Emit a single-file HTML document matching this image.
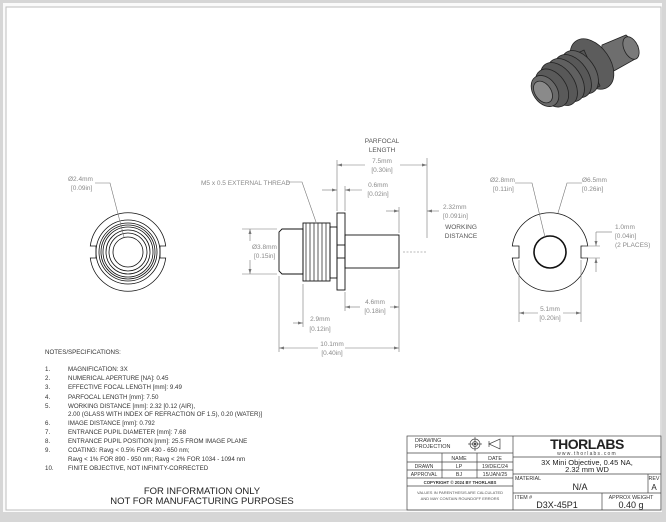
<!DOCTYPE html>
<html><head><meta charset="utf-8"><style>
html,body{margin:0;padding:0;background:#fff;}
svg{display:block;}
text{font-family:"Liberation Sans",sans-serif;}
.d{fill:#8a8a8a;font-size:6.5px;}
.n{fill:#333;font-size:6.2px;}
</style></head><body>
<svg width="666" height="522" viewBox="0 0 666 522" xmlns="http://www.w3.org/2000/svg">
<rect x="0" y="0" width="666" height="522" fill="#d6d6d6"/>
<rect x="3" y="3" width="659" height="509" fill="#fafafa"/>
<rect x="6" y="7" width="655" height="503" fill="#fff" stroke="#bdbdbd" stroke-width="1"/>

<!-- 3D render -->
<g stroke="#222" stroke-width="0.8">
<polygon points="602,45 626,35 638,46 637,58 612,72 600,66" fill="#6e6e6e"/>
<ellipse cx="631" cy="48" rx="7" ry="12" transform="rotate(-25 631 48)" fill="#7a7a7a"/>
<ellipse cx="592" cy="64" rx="18" ry="28" transform="rotate(-35 592 64)" fill="#5c5c5c"/>
<polygon points="551,66 584,50 600,86 567,104" fill="#555"/>
<ellipse cx="580" cy="72" rx="15" ry="24" transform="rotate(-35 580 72)" fill="#606060"/>
<ellipse cx="573" cy="76" rx="15" ry="24" transform="rotate(-35 573 76)" fill="#585858"/>
<ellipse cx="566" cy="80" rx="15" ry="24" transform="rotate(-35 566 80)" fill="#606060"/>
<ellipse cx="559" cy="84" rx="15" ry="24" transform="rotate(-35 559 84)" fill="#585858"/>
<ellipse cx="552" cy="88" rx="14" ry="21" transform="rotate(-35 552 88)" fill="#5a5a5a"/>
<ellipse cx="545" cy="91" rx="12" ry="17" transform="rotate(-35 545 91)" fill="#6a6a6a"/>
<ellipse cx="543" cy="92" rx="8" ry="12" transform="rotate(-35 543 92)" fill="#8a8a8a"/>
</g>

<!-- Left view -->
<g fill="none" stroke="#111" stroke-width="0.8">
<path d="M90.3,246 A38,38 0 0 1 165.7,246 L160,246 L160,258 L165.7,258 A38,38 0 0 1 90.3,258 L96,258 L96,246 Z"/>
<circle cx="128" cy="252" r="32"/>
<circle cx="128" cy="252" r="29"/>
<circle cx="128" cy="252" r="27"/>
<circle cx="128" cy="252" r="25"/>
<circle cx="128" cy="252" r="22"/>
<circle cx="128" cy="252" r="19"/>
<circle cx="128" cy="252" r="15"/>
</g>
<text class="d" x="68" y="181">Ø2.4mm</text>
<text class="d" x="71" y="190">[0.09in]</text>
<polyline points="95,183 110,183 124,237" fill="none" stroke="#777" stroke-width="0.6"/>

<!-- Side view -->
<g fill="none" stroke="#111" stroke-width="0.9">
<path d="M282,229 L303,229 L303,274 L282,274 L279,271 L279,232 Z"/>
<rect x="303" y="223" width="27" height="58"/>
<path d="M306,223 v58 M310,223 v58 M314,223 v58 M318,223 v58 M322,223 v58 M326,223 v58" stroke="#333" stroke-width="0.8"/>
<rect x="330" y="227" width="7" height="51"/>
<rect x="337" y="213" width="8" height="77"/>
<line x1="337" y1="245" x2="345" y2="245"/><line x1="337" y1="258" x2="345" y2="258"/>
<rect x="345" y="235" width="54" height="33"/>
</g>
<g stroke="#777" stroke-width="0.6" fill="none">
<line x1="279" y1="276" x2="279" y2="352"/>
<line x1="303" y1="284" x2="303" y2="327"/>
<line x1="337" y1="160" x2="337" y2="211"/>
<line x1="345" y1="186" x2="345" y2="211"/>
<line x1="345" y1="292" x2="345" y2="311"/>
<line x1="399" y1="207" x2="399" y2="233"/>
<line x1="399" y1="270" x2="399" y2="352"/>
<line x1="427" y1="158" x2="427" y2="238"/>
<line x1="403" y1="252" x2="427" y2="252" stroke-dasharray="2,1.5"/>
<line x1="337" y1="165" x2="365" y2="165"/><line x1="400" y1="165" x2="427" y2="165"/>
<line x1="322" y1="190" x2="337" y2="190"/><line x1="345" y1="190" x2="362" y2="190"/>
<line x1="386" y1="211" x2="399" y2="211"/><line x1="427" y1="211" x2="439" y2="211"/>
<line x1="345" y1="307" x2="360" y2="307"/><line x1="390" y1="307" x2="399" y2="307"/>
<line x1="293" y1="323" x2="303" y2="323"/>
<line x1="279" y1="348" x2="318" y2="348"/><line x1="345" y1="348" x2="399" y2="348"/>
<line x1="242" y1="229" x2="277" y2="229"/><line x1="242" y1="274" x2="277" y2="274"/>
<line x1="250" y1="229" x2="250" y2="241"/><line x1="250" y1="260" x2="250" y2="274"/>
<polyline points="287,182 302,182 316,222"/>
</g>
<g fill="#777">
<path d="M337,165 l5,-1.5 v3z M427,165 l-5,-1.5 v3z M337,190 l-5,-1.5 v3z M345,190 l5,-1.5 v3z M399,211 l-5,-1.5 v3z M427,211 l5,-1.5 v3z M345,307 l5,-1.5 v3z M399,307 l-5,-1.5 v3z M303,323 l-5,-1.5 v3z M279,348 l5,-1.5 v3z M399,348 l-5,-1.5 v3z M250,229 l-1.5,5 h3z M250,274 l-1.5,-5 h3z"/>
</g>
<text class="d" x="382" y="143" text-anchor="middle" style="fill:#555">PARFOCAL</text>
<text class="d" x="382" y="152" text-anchor="middle" style="fill:#555">LENGTH</text>
<text class="d" x="382" y="163" text-anchor="middle">7.5mm</text>
<text class="d" x="382" y="172" text-anchor="middle">[0.30in]</text>
<text class="d" x="378" y="187" text-anchor="middle">0.6mm</text>
<text class="d" x="378" y="196" text-anchor="middle">[0.02in]</text>
<text class="d" x="443" y="209">2.32mm</text>
<text class="d" x="443" y="218">[0.091in]</text>
<text class="d" x="461" y="229" text-anchor="middle" style="fill:#555">WORKING</text>
<text class="d" x="461" y="238" text-anchor="middle" style="fill:#555">DISTANCE</text>
<text class="d" x="375" y="304" text-anchor="middle">4.6mm</text>
<text class="d" x="375" y="313" text-anchor="middle">[0.18in]</text>
<text class="d" x="320" y="321" text-anchor="middle">2.9mm</text>
<text class="d" x="320" y="331" text-anchor="middle">[0.12in]</text>
<text class="d" x="332" y="346" text-anchor="middle">10.1mm</text>
<text class="d" x="332" y="355" text-anchor="middle">[0.40in]</text>
<text class="d" x="252" y="249">Ø3.8mm</text>
<text class="d" x="254" y="258">[0.15in]</text>
<text class="d" x="201" y="185">M5 x 0.5 EXTERNAL THREAD</text>

<!-- Right view -->
<g fill="none" stroke="#111" stroke-width="0.8">
<path d="M512.3,246 A38,38 0 0 1 587.7,246 L581,246 L581,258 L587.7,258 A38,38 0 0 1 512.3,258 L519,258 L519,246 Z"/>
<circle cx="550" cy="252" r="16" stroke-width="1.6"/>
</g>
<g stroke="#777" stroke-width="0.6" fill="none">
<polyline points="515,183 532,183 545,237"/>
<polyline points="582,183 567,183 558,213"/>
<line x1="519" y1="260" x2="519" y2="322"/><line x1="581" y1="260" x2="581" y2="322"/>
<line x1="519" y1="313" x2="538" y2="313"/><line x1="563" y1="313" x2="581" y2="313"/>
<line x1="583" y1="246" x2="600" y2="246"/><line x1="583" y1="258" x2="600" y2="258"/>
<line x1="596" y1="232" x2="596" y2="246"/><line x1="596" y1="258" x2="596" y2="272"/>
<line x1="596" y1="232" x2="612" y2="232"/>
</g>
<g fill="#777"><path d="M519,313 l5,-1.5 v3z M581,313 l-5,-1.5 v3z M596,246 l-1.5,-5 h3z M596,258 l-1.5,5 h3z"/></g>
<text class="d" x="490" y="182">Ø2.8mm</text>
<text class="d" x="493" y="191">[0.11in]</text>
<text class="d" x="582" y="182">Ø6.5mm</text>
<text class="d" x="582" y="191">[0.26in]</text>
<text class="d" x="615" y="229">1.0mm</text>
<text class="d" x="615" y="238">[0.04in]</text>
<text class="d" x="615" y="247">(2 PLACES)</text>
<text class="d" x="550" y="311" text-anchor="middle">5.1mm</text>
<text class="d" x="550" y="320" text-anchor="middle">[0.20in]</text>

<!-- Notes -->
<text class="n" x="45" y="354">NOTES/SPECIFICATIONS:</text>
<text class="n" x="45" y="371">1.</text><text class="n" x="68" y="371">MAGNIFICATION: 3X</text>
<text class="n" x="45" y="380">2.</text><text class="n" x="68" y="380">NUMERICAL APERTURE [NA]: 0.45</text>
<text class="n" x="45" y="389">3.</text><text class="n" x="68" y="389">EFFECTIVE FOCAL LENGTH [mm]: 9.49</text>
<text class="n" x="45" y="399">4.</text><text class="n" x="68" y="399">PARFOCAL LENGTH [mm]: 7.50</text>
<text class="n" x="45" y="408">5.</text><text class="n" x="68" y="408">WORKING DISTANCE [mm]: 2.32 [0.12 (AIR),</text>
<text class="n" x="68" y="416">2.00 (GLASS WITH INDEX OF REFRACTION OF 1.5), 0.20 (WATER)]</text>
<text class="n" x="45" y="425">6.</text><text class="n" x="68" y="425">IMAGE DISTANCE [mm]: 0.792</text>
<text class="n" x="45" y="434">7.</text><text class="n" x="68" y="434">ENTRANCE PUPIL DIAMETER [mm]: 7.68</text>
<text class="n" x="45" y="443">8.</text><text class="n" x="68" y="443">ENTRANCE PUPIL POSITION [mm]: 25.5 FROM IMAGE PLANE</text>
<text class="n" x="45" y="452">9.</text><text class="n" x="68" y="452">COATING: Ravg &lt; 0.5% FOR 430 - 650 nm;</text>
<text class="n" x="68" y="461">Ravg &lt; 1% FOR 890 - 950 nm; Ravg &lt; 2% FOR 1034 - 1094 nm</text>
<text class="n" x="45" y="470">10.</text><text class="n" x="68" y="470">FINITE OBJECTIVE, NOT INFINITY-CORRECTED</text>
<text x="202" y="494" text-anchor="middle" font-size="9.5" fill="#222">FOR INFORMATION ONLY</text>
<text x="202" y="504" text-anchor="middle" font-size="9.5" fill="#222">NOT FOR MANUFACTURING PURPOSES</text>

<!-- Title block -->
<g fill="none" stroke="#444" stroke-width="0.7">
<rect x="407" y="436" width="254" height="74"/>
<line x1="513" y1="436" x2="513" y2="510"/>
<line x1="407" y1="453" x2="513" y2="453"/>
<line x1="407" y1="462" x2="513" y2="462"/>
<line x1="407" y1="470" x2="513" y2="470"/>
<line x1="407" y1="478" x2="513" y2="478"/>
<line x1="407" y1="486" x2="513" y2="486"/>
<line x1="442" y1="453" x2="442" y2="478"/>
<line x1="477" y1="453" x2="477" y2="478"/>
<line x1="513" y1="457" x2="661" y2="457"/>
<line x1="513" y1="474" x2="661" y2="474"/>
<line x1="513" y1="493" x2="661" y2="493"/>
<line x1="648" y1="474" x2="648" y2="493"/>
<line x1="602" y1="493" x2="602" y2="510"/>
<circle cx="475" cy="444" r="5"/><circle cx="475" cy="444" r="2.5"/>
<line x1="468" y1="444" x2="482" y2="444"/><line x1="475" y1="437" x2="475" y2="451"/>
<path d="M489,444 L500,439 L500,449 Z M489,441 v6"/>
</g>
<circle cx="475" cy="444" r="1" fill="#222"/>
<text x="415" y="442" font-size="5.5" fill="#333">DRAWING</text>
<text x="415" y="448" font-size="5.5" fill="#333">PROJECTION</text>
<text x="459" y="460" font-size="5.3" fill="#333" text-anchor="middle">NAME</text>
<text x="495" y="460" font-size="5.3" fill="#333" text-anchor="middle">DATE</text>
<text x="424" y="468" font-size="5" fill="#333" text-anchor="middle">DRAWN</text>
<text x="459" y="468" font-size="5.3" fill="#333" text-anchor="middle">LP</text>
<text x="495" y="468" font-size="5.3" fill="#333" text-anchor="middle">19/DEC/24</text>
<text x="424" y="476" font-size="5" fill="#333" text-anchor="middle">APPROVAL</text>
<text x="459" y="476" font-size="5.3" fill="#333" text-anchor="middle">BJ</text>
<text x="495" y="476" font-size="5.3" fill="#333" text-anchor="middle">15/JAN/25</text>
<text x="460" y="484" font-size="4.3" fill="#333" text-anchor="middle" font-weight="bold">COPYRIGHT © 2024 BY THORLABS</text>
<text x="460" y="494" font-size="4" fill="#555" text-anchor="middle">VALUES IN PARENTHESIS ARE CALCULATED</text>
<text x="460" y="500" font-size="4" fill="#555" text-anchor="middle">AND MAY CONTAIN ROUNDOFF ERRORS</text>
<text x="587" y="449" font-size="14" font-weight="bold" fill="#222" text-anchor="middle" letter-spacing="-0.5">THORLABS</text>
<text x="587" y="455" font-size="5" fill="#444" text-anchor="middle" letter-spacing="1.2">www.thorlabs.com</text>
<text x="587" y="465" font-size="7.5" fill="#222" text-anchor="middle">3X Mini Objective, 0.45 NA,</text>
<text x="587" y="472" font-size="7.5" fill="#222" text-anchor="middle">2.32 mm WD</text>
<text x="515" y="480" font-size="5.3" fill="#333">MATERIAL</text>
<text x="580" y="490" font-size="9" fill="#222" text-anchor="middle">N/A</text>
<text x="654" y="480" font-size="5.3" fill="#333" text-anchor="middle">REV</text>
<text x="654" y="490" font-size="8" fill="#222" text-anchor="middle">A</text>
<text x="515" y="499" font-size="5.3" fill="#333">ITEM #</text>
<text x="557" y="508" font-size="9" fill="#222" text-anchor="middle">D3X-45P1</text>
<text x="631" y="499" font-size="5.3" fill="#333" text-anchor="middle">APPROX WEIGHT</text>
<text x="631" y="508" font-size="9" fill="#222" text-anchor="middle">0.40 g</text>
</svg>
</body></html>
